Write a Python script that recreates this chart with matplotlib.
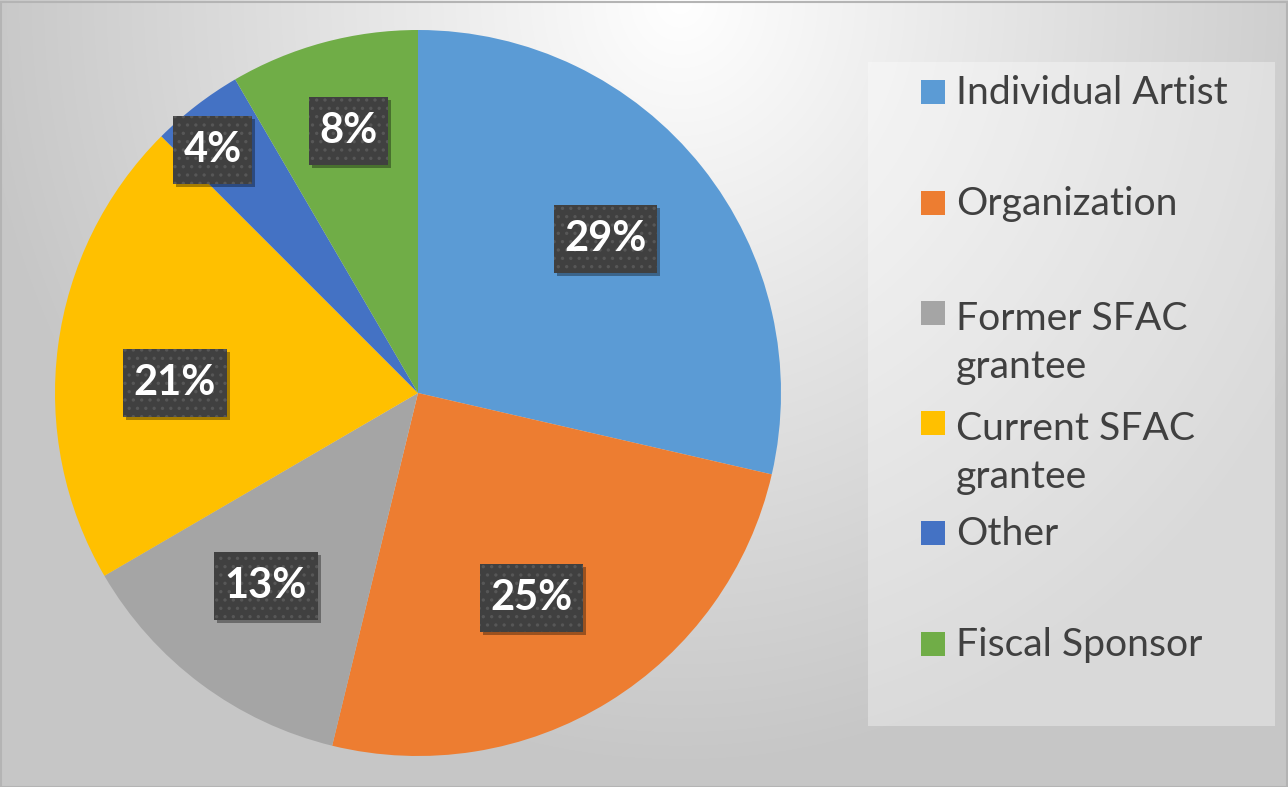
import numpy as np
import matplotlib
matplotlib.use('Agg')
import matplotlib.pyplot as plt
from matplotlib.patches import Rectangle
from matplotlib.path import Path
from matplotlib.transforms import IdentityTransform

# data
categories = ['Individual Artist', 'Organization', 'Former SFAC grantee',
              'Current SFAC grantee', 'Other', 'Fiscal Sponsor']
legend_labels = ['Individual Artist', 'Organization', 'Former SFAC\ngrantee',
                 'Current SFAC\ngrantee', 'Other', 'Fiscal Sponsor']
shares = [28.6, 25.2, 12.8, 20.9, 4.1, 8.4]
colors = ['#5B9BD5', '#ED7D31', '#A5A5A5', '#FFC000', '#4472C4', '#70AD47']

# label placement (fraction of radius, angle nudge in degrees), like Excel's best fit
label_dist = [0.67, 0.645, 0.677, 0.67, 0.876, 0.746]
label_nudge = [0.9, -2.8, -1.5, 5.0, 2.6, -0.3]

plt.rcParams['font.family'] = ['Lato', 'DejaVu Sans']
plt.rcParams['hatch.linewidth'] = 1.2


def label_box(x0, y0, width, height, mutation_size):
    px, py = 0.25 * mutation_size, 0.36 * mutation_size
    x1, y1 = x0 + width + px, y0 + height + py
    x0, y0 = x0 - px, y0 - py
    return Path([(x0, y0), (x1, y0), (x1, y1), (x0, y1), (x0, y0)], closed=True)


W, H = 1288, 787
fig = plt.figure(figsize=(W / 100, H / 100), dpi=100)

# radial grey background
bg = fig.add_axes([0, 0, 1, 1])
yy, xx = np.mgrid[0:H, 0:W]
d = np.sqrt(((xx - 680) / 700.0) ** 2 + ((yy - 0) / 760.0) ** 2)
shade = 1.0 - 0.22 * np.clip(d, 0, 1)
bg.imshow(np.dstack([shade] * 3), extent=[0, W, H, 0], aspect='auto')
bg.set_xlim(0, W)
bg.set_ylim(H, 0)
bg.axis('off')
bg.add_patch(Rectangle((0.5, 1.5), W - 1, H - 2, fill=False,
                       edgecolor='#b4b4b4', lw=1.5))

# pie
cx, cy, R = 418, 393, 363
ax = fig.add_axes([(cx - R) / W, (H - cy - R) / H, 2 * R / W, 2 * R / H])
wedges, _ = ax.pie(shares, colors=colors, startangle=90, counterclock=False,
                   radius=1.0)
ax.set_xlim(-1, 1)
ax.set_ylim(-1, 1)
ax.axis('off')

labels = []
for w, s, r, nd in zip(wedges, shares, label_dist, label_nudge):
    ang = np.deg2rad((w.theta1 + w.theta2) / 2 + nd)
    t = ax.text(r * np.cos(ang), r * np.sin(ang), '%.0f%%' % s,
                ha='center', va='center', fontsize=30, fontweight='bold',
                color='white', zorder=4,
                bbox=dict(boxstyle=label_box, facecolor='#404040',
                          edgecolor='#575757', hatch='..', lw=0))
    labels.append(t)

# drop shadow behind each label box
fig.canvas.draw()
for t in labels:
    bb = t.get_bbox_patch().get_window_extent()
    ax.add_patch(Rectangle((bb.x0 + 3, bb.y0 - 3), bb.width, bb.height,
                           transform=IdentityTransform(), facecolor='black',
                           alpha=0.35, lw=0, zorder=3))

# legend box
bg.add_patch(Rectangle((868, 62), 1275 - 868, 726 - 62, facecolor='white',
                       alpha=0.35, lw=0))
# baseline of the last line of each entry
baselines = [104, 215, 378, 488, 545, 656]
for lab, c, yb in zip(legend_labels, colors, baselines):
    nlines = lab.count('\n')
    bg.add_patch(Rectangle((921, yb - 53 * nlines - 24), 24, 24,
                           facecolor=c, lw=0))
    bg.text(956, yb, lab, ha='left', va='baseline', fontsize=28.2,
            color='#404040', linespacing=1.4)

fig.savefig('out.png', dpi=100)
